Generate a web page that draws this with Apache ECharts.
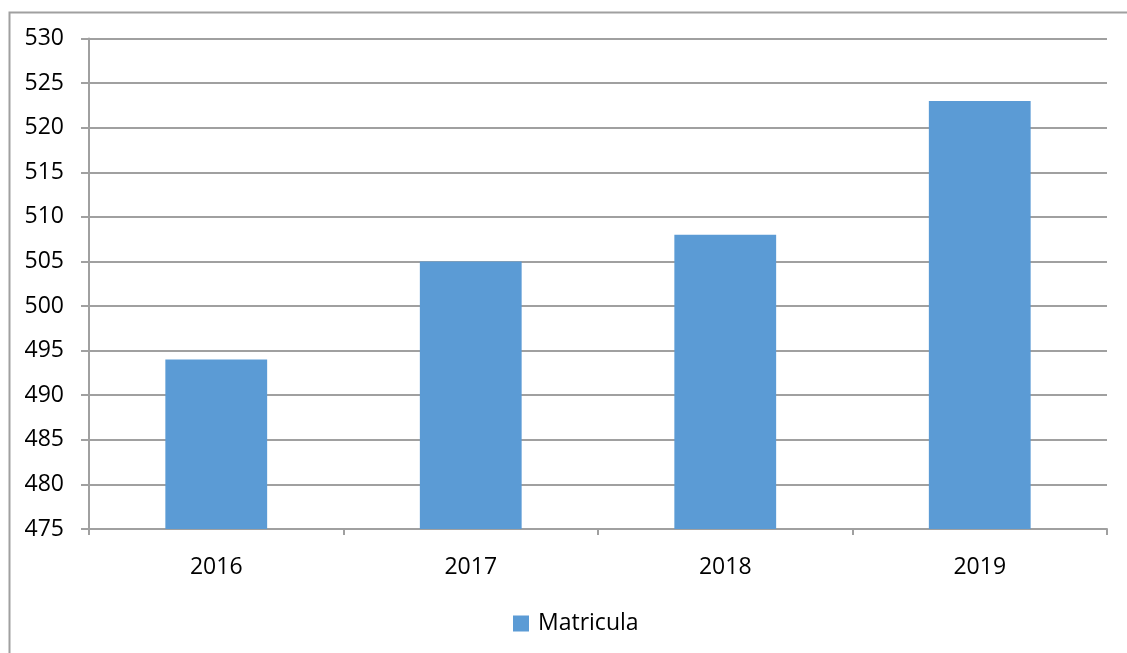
<!DOCTYPE html>
<html>
<head>
<meta charset="utf-8">
<script src="https://cdn.jsdelivr.net/npm/echarts@6/dist/echarts.min.js"></script>
<style>html,body{margin:0;padding:0;background:#fff}#c{width:1127px;height:653px}</style>
</head>
<body>
<div id="c"></div>
<script>
const categories = ['2016', '2017', '2018', '2019'];
const matricula = [494, 505, 508, 523];
const seriesName = 'Matricula';

const chart = echarts.init(document.getElementById('c'), null, {renderer: 'canvas'});
const lineColor = '#A0A0A0';
const font = 'Open Sans';
chart.setOption({
  animation: false,
  backgroundColor: '#fff',
  graphic: [{
    type: 'rect', left: 7, top: 10,
    shape: {width: 1140, height: 660},
    style: {fill: 'none', stroke: lineColor, lineWidth: 2},
    z: -1
  }],
  grid: {left: 89, right: 20, top: 38.5, bottom: 124, containLabel: false},
  legend: {
    data: [seriesName], top: 612, left: 513, padding: 0,
    icon: 'rect', itemWidth: 16, itemHeight: 16, itemGap: 8,
    textStyle: {fontFamily: font, fontSize: 23, color: '#000', padding: [0, 0, 0, 4]}
  },
  xAxis: {
    type: 'category', data: categories,
    axisLine: {lineStyle: {color: lineColor, width: 2}},
    axisTick: {show: true, length: 6, lineStyle: {color: lineColor, width: 2}},
    axisLabel: {fontFamily: font, fontSize: 23, color: '#000', margin: 27}
  },
  yAxis: {
    type: 'value', min: 475, max: 530, interval: 5,
    axisLine: {show: true, lineStyle: {color: lineColor, width: 2}},
    axisTick: {show: true, length: 8, lineStyle: {color: lineColor, width: 2}},
    splitLine: {lineStyle: {color: lineColor, width: 2}},
    axisLabel: {fontFamily: font, fontSize: 23, color: '#000', margin: 25}
  },
  series: [{
    name: seriesName, type: 'bar', data: matricula,
    barWidth: '40%', itemStyle: {color: '#5B9BD5'}
  }]
});
</script>
</body>
</html>
